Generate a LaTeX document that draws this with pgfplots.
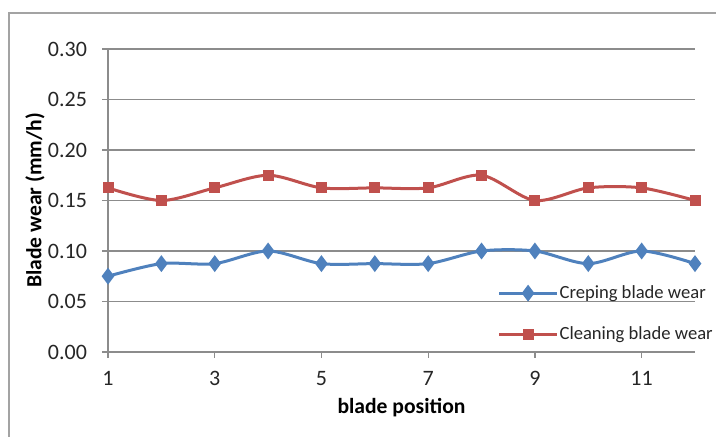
\documentclass[border=0pt]{standalone}
\usepackage{pgfplots}
\pgfplotsset{compat=1.18}
\usepackage{fontspec}
\setmainfont{Carlito}
\definecolor{exblue}{HTML}{4F81BD}
\definecolor{exred}{HTML}{C0504D}
\definecolor{gridgray}{HTML}{8C8C8C}
\definecolor{txt}{HTML}{262626}
\begin{document}
\begin{tikzpicture}
\useasboundingbox (0,0) rectangle (358pt,218.5pt);
\draw[gridgray!80, line width=0.8pt] (4.5pt,0) -- (4.5pt,212pt) -- (358pt,212pt);
\begin{axis}[
  at={(54pt,42.5pt)}, anchor=south west,
  scale only axis, width=293.5pt, height=151.5pt,
  xmin=1, xmax=12, ymin=0, ymax=0.30,
  xtick={1,3,5,7,9,11},
  ytick={0,0.05,0.10,0.15,0.20,0.25,0.30},
  yticklabel style={/pgf/number format/fixed, /pgf/number format/fixed zerofill, /pgf/number format/precision=2, xshift=-4pt},
  /pgf/number format/assume math mode=true,
  ticklabel style={font=\fontsize{11}{13}\selectfont, text=txt},
  axis x line*=bottom, axis y line*=left,
  axis line style={gridgray, line width=0.6pt, -},
  tick style={gridgray, line width=0.6pt},
  tick align=outside, major tick length=3pt,
  ymajorgrids, grid style={gridgray, line width=0.6pt},
  xlabel={blade position}, ylabel={Blade wear (mm/h)},
  label style={font=\fontsize{10.8}{12}\selectfont\bfseries, text=black},
  xlabel style={at={(axis description cs:0.5,0)}, anchor=center, yshift=-28pt},
  ylabel style={at={(axis description cs:0,0.5)}, anchor=center, yshift=36.5pt},
  xticklabel style={yshift=-3pt},
  legend style={at={(0.663,0.225)}, anchor=north west, draw=none, fill=none,
    font=\fontsize{9.3}{11}\selectfont, text=txt, inner sep=0pt, row sep=11.5pt,
    nodes={inner sep=0.5pt},
    /tikz/every even column/.append style={column sep=0pt}},
  legend cell align=left,
  legend image code/.code={
    \draw[#1, mark repeat=2, mark phase=2] plot coordinates {(0pt,0pt) (14.5pt,0pt) (29pt,0pt)};},
]
\addplot[exblue, line width=1.5pt, smooth, tension=0.5, mark=diamond*, mark size=3pt, mark options={solid, fill=exblue}]
coordinates {(1,0.075) (2,0.0875) (3,0.0875) (4,0.1) (5,0.0875) (6,0.0875) (7,0.0875) (8,0.1) (9,0.1) (10,0.0875) (11,0.1) (12,0.0875)};
\addlegendentry{Creping blade wear}
\addplot[exred, line width=1.5pt, smooth, tension=0.5, mark=square*, mark size=2pt, mark options={solid, fill=exred}]
coordinates {(1,0.1625) (2,0.15) (3,0.1625) (4,0.175) (5,0.1625) (6,0.1625) (7,0.1625) (8,0.175) (9,0.15) (10,0.1625) (11,0.1625) (12,0.15)};
\addlegendentry{Cleaning blade wear}
\end{axis}
\end{tikzpicture}
\end{document}
